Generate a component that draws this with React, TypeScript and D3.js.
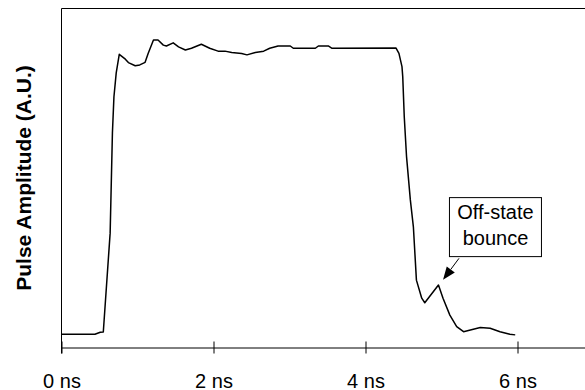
import React, { useRef, useEffect } from "react";
import * as d3 from "d3";

// pulse trace, time in ns and amplitude in arbitrary units
const timeNs = [
  0, 0.44, 0.51, 0.55, 0.64, 0.67, 0.69, 0.72, 0.76, 0.84, 0.88, 0.97, 1.03, 1.1,
  1.14, 1.21, 1.27, 1.34, 1.38, 1.47, 1.54, 1.63, 1.71, 1.84, 1.95, 2.06, 2.15,
  2.24, 2.37, 2.44, 2.55, 2.66, 2.74, 2.85, 3.01, 3.05, 3.34, 3.38, 3.51, 3.56,
  4.4, 4.44, 4.48, 4.49, 4.51, 4.54, 4.59, 4.63, 4.67, 4.74, 4.78, 4.96, 5.02,
  5.11, 5.2, 5.29, 5.38, 5.51, 5.64, 5.77, 5.9, 5.97,
];
const amplitude = [
  0, 0, 0.007, 0.008, 0.353, 0.702, 0.829, 0.912, 0.977, 0.96, 0.948, 0.937, 0.94,
  0.949, 0.98, 1.027, 1.027, 1.009, 1.006, 1.017, 1.003, 0.992, 0.998, 1.012,
  0.998, 0.988, 0.988, 0.983, 0.98, 0.975, 0.983, 0.988, 0.998, 1.006, 1.006,
  0.998, 0.998, 1.006, 1.006, 0.998, 0.999, 0.98, 0.934, 0.899, 0.759, 0.62,
  0.469, 0.375, 0.189, 0.126, 0.11, 0.172, 0.126, 0.067, 0.027, 0.009, 0.015,
  0.024, 0.021, 0.009, 0, -0.002,
];

const xTicks = [0, 2, 4, 6];
const xTickLabels = ["0 ns", "2 ns", "4 ns", "6 ns"];
const yTitle = "Pulse Amplitude (A.U.)";

// callout: text lines, box centre, arrow start and tip (data units)
const noteLines = ["Off-state", "bounce"];
const noteCenter = [5.71, 0.374];
const noteFrom = [5.23, 0.265];
const noteTip = [5.02, 0.19];

const FONT = "Liberation Sans, Arial, sans-serif";

const App = () => {
  const ref = useRef<SVGSVGElement>(null);

  useEffect(() => {
    const svg = d3.select(ref.current);
    svg.selectAll("*").remove();

    const axisY = 347.5;
    const x = d3.scaleLinear().domain([0, 8]).range([61.5, 669.5]);
    const y = d3.scaleLinear().domain([0, 1]).range([334.3, 47.7]);

    // frame: top and left only, the right side is cut off
    svg
      .append("line")
      .attr("x1", x(0))
      .attr("x2", 585)
      .attr("y1", 8.5)
      .attr("y2", 8.5)
      .attr("stroke", "#000");
    svg
      .append("line")
      .attr("x1", x(0))
      .attr("x2", x(0))
      .attr("y1", 8.5)
      .attr("y2", axisY + 6)
      .attr("stroke", "#000");

    const xAxis = d3
      .axisBottom(x)
      .tickValues(xTicks)
      .tickSize(6)
      .tickSizeOuter(0)
      .tickFormat((d, i) => xTickLabels[i]);

    const gx = svg
      .append("g")
      .attr("transform", `translate(0,${axisY})`)
      .call(xAxis)
      .attr("font-family", FONT)
      .attr("font-size", 20);
    gx.selectAll(".tick line").attr("y1", -6).attr("y2", 6);
    gx.selectAll(".tick text").attr("y", 40).attr("dy", null).attr("fill", "#000");

    svg
      .append("text")
      .attr("transform", `translate(31,${(8.5 + axisY) / 2}) rotate(-90)`)
      .attr("text-anchor", "middle")
      .attr("font-family", FONT)
      .attr("font-size", 21)
      .attr("font-weight", "bold")
      .text(yTitle);

    const line = d3
      .line<number>()
      .x((d, i) => x(timeNs[i]))
      .y((d) => y(d));

    svg
      .append("path")
      .datum(amplitude)
      .attr("d", line)
      .attr("fill", "none")
      .attr("stroke", "#000")
      .attr("stroke-width", 1.5)
      .attr("stroke-linejoin", "round");

    // callout box
    const cx = x(noteCenter[0]);
    const cy = y(noteCenter[1]);
    const bw = 92;
    const bh = 59;
    svg
      .append("rect")
      .attr("x", cx - bw / 2)
      .attr("y", cy - bh / 2)
      .attr("width", bw)
      .attr("height", bh)
      .attr("fill", "#fff")
      .attr("stroke", "#000");
    svg
      .selectAll(".note-text")
      .data(noteLines)
      .enter()
      .append("text")
      .attr("class", "note-text")
      .attr("x", cx)
      .attr("y", (d, i) => cy - 8.5 + i * 26.5)
      .attr("text-anchor", "middle")
      .attr("font-family", FONT)
      .attr("font-size", 20)
      .text((d) => d);

    // arrow with filled head
    const x0 = x(noteFrom[0]);
    const y0 = y(noteFrom[1]);
    const x1 = x(noteTip[0]);
    const y1 = y(noteTip[1]);
    const len = Math.hypot(x1 - x0, y1 - y0);
    const ux = (x1 - x0) / len;
    const uy = (y1 - y0) / len;
    const headL = 13;
    const headW = 5;
    const bx = x1 - ux * headL;
    const by = y1 - uy * headL;
    svg
      .append("line")
      .attr("x1", x0)
      .attr("y1", y0)
      .attr("x2", bx)
      .attr("y2", by)
      .attr("stroke", "#000");
    svg
      .append("path")
      .attr(
        "d",
        `M${x1},${y1}L${bx - uy * headW},${by + ux * headW}L${bx + uy * headW},${by - ux * headW}Z`
      )
      .attr("fill", "#000");
  }, []);

  return (
    <svg
      ref={ref}
      width={585}
      height={390}
      style={{ position: "absolute", left: 0, top: 0, background: "#fff" }}
    />
  );
};

export default App;
